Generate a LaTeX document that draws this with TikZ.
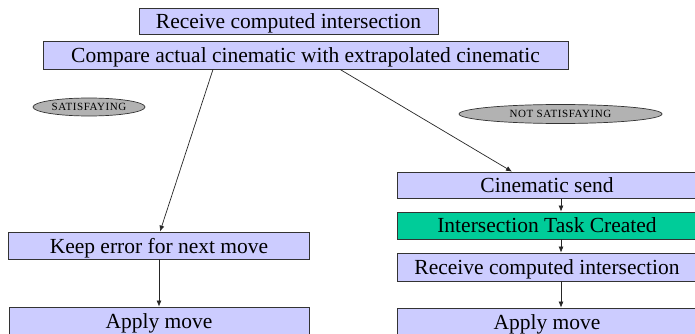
\documentclass[tikz,border=0pt]{standalone}
\usepackage{fontspec}
\setmainfont{Liberation Serif}
\newfontfamily\tagfont[LetterSpace=5]{Liberation Serif}
\usetikzlibrary{arrows.meta,shapes.geometric}
\definecolor{lav}{RGB}{204,204,255}
\definecolor{grn}{RGB}{0,204,153}
\definecolor{ell}{RGB}{178,178,178}
\tikzset{
  box/.style={draw=black!80, line width=0.8pt, fill=lav, rectangle, inner sep=0pt, text depth=0pt, font=\fontsize{21.5}{23}\selectfont},
  tag/.style={draw=black!80, line width=0.7pt, fill=ell, ellipse, inner sep=0pt, font=\tagfont\fontsize{11}{12}\selectfont},
  arr/.style={draw=black!85, line width=0.7pt, -{Latex[length=6pt,width=5pt]}}
}
\begin{document}
\begin{tikzpicture}[x=1pt,y=-1pt]
\useasboundingbox (0,0) rectangle (695,334);
\clip (0,0) rectangle (695,334);
\fill[white] (0,0) rectangle (695,334);
\node[box, minimum width=299pt, minimum height=26pt] (rt) at (288.5,21) {Receive computed intersection};
\node[box, minimum width=525pt, minimum height=28pt] (cmp) at (305.5,55) {Compare actual cinematic with extrapolated cinematic};
\node[tag, minimum width=112pt, minimum height=18pt] (sat) at (89,107) {SATISFAYING};
\node[tag, minimum width=203pt, minimum height=19pt] (nsat) at (560.5,114) {NOT SATISFAYING};
\node[box, minimum width=300pt, minimum height=26pt] (cs) at (547,185) {Cinematic send};
\node[box, fill=grn, minimum width=300pt, minimum height=27pt] (it) at (547,225.5) {Intersection Task Created};
\node[box, minimum width=300pt, minimum height=28pt] (rr) at (547,267) {Receive computed intersection};
\node[box, minimum width=300pt, minimum height=28pt] (ar) at (547,322) {Apply move};
\node[box, minimum width=301pt, minimum height=27pt] (ke) at (159,245.5) {Keep error for next move};
\node[box, minimum width=300pt, minimum height=28pt] (al) at (159,321) {Apply move};
\coordinate (xr) at (561,0);
\coordinate (xl) at (159,0);
\coordinate (c1) at (213,0);
\coordinate (c2) at (340,0);
\coordinate (k1) at (160,0);
\coordinate (s1) at (512,0);
\draw[arr] (cmp.south -| c1) -- (ke.north -| k1);
\draw[arr] (cmp.south -| c2) -- (cs.north -| s1);
\draw[arr] (ke.south -| xl) -- (al.north -| xl);
\draw[arr] (cs.south -| xr) -- (it.north -| xr);
\draw[arr] (it.south -| xr) -- (rr.north -| xr);
\draw[arr] (rr.south -| xr) -- (ar.north -| xr);
\end{tikzpicture}
\end{document}
